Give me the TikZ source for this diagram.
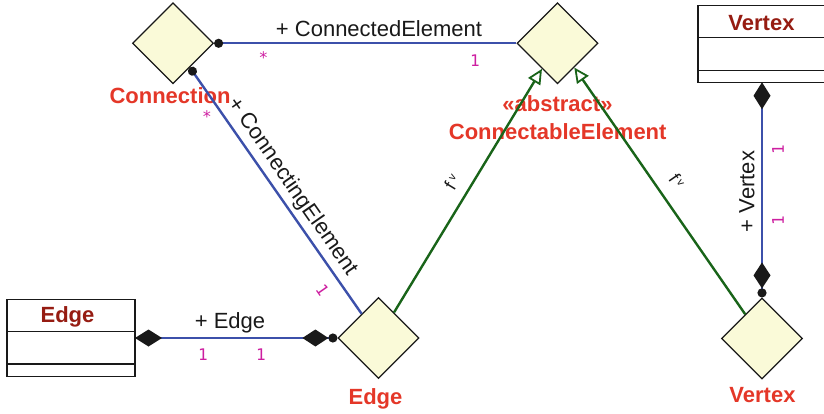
\documentclass[tikz,border=0pt]{standalone}
\usepackage{fontspec}
\setmainfont{Liberation Sans}
\newfontfamily\multfont{DejaVu Sans Mono}
\usetikzlibrary{shapes.geometric,arrows.meta}
\definecolor{lineblue}{RGB}{60,80,170}
\definecolor{gengreen}{RGB}{25,100,25}
\definecolor{multi}{RGB}{205,30,160}
\definecolor{lblred}{RGB}{228,55,40}
\definecolor{titlered}{RGB}{150,28,18}
\definecolor{dfill}{RGB}{250,250,216}
\definecolor{ink}{RGB}{25,25,25}
\begin{document}
\begin{tikzpicture}[x=1pt,y=-1pt,
  elem/.style={diamond, aspect=1, draw=ink, line width=1.2pt, fill=dfill, minimum width=81pt, minimum height=81pt, inner sep=0pt},
  classbox/.style={rectangle, draw=ink, line width=1.4pt, fill=white, minimum width=128pt, minimum height=77pt, inner sep=0pt, outer sep=0pt},
  classtitle/.style={font=\bfseries\fontsize{22}{26}\selectfont, text=titlered, inner sep=0pt},
  elemname/.style={font=\bfseries\fontsize{22}{26}\selectfont, text=lblred, inner sep=0pt},
  rolelbl/.style={font=\fontsize{22}{26}\selectfont, text=ink, inner sep=0pt},
  mult/.style={font=\multfont\fontsize{16}{18}\selectfont, text=multi, inner sep=0pt},
  genlbl/.style={font=\fontsize{18}{20}\selectfont, text=ink, inner sep=0pt},
  assoc/.style={draw=lineblue, line width=2.4pt},
  gen/.style={draw=gengreen, line width=2.4pt},
  comprule/.style={draw=ink, line width=1.4pt}
]
\useasboundingbox (0,0) rectangle (824,414);

% element diamonds
\node[elem] (conn) at (173,43.3) {};
\node[elem] (ce) at (557.5,43.3) {};
\node[elem] (edgeD) at (378.5,338) {};
\node[elem] (vertexD) at (762,338.5) {};

% class boxes
\node[classbox] (edgeC) at (71,338) {};
\node[classbox, minimum height=76.5pt] (vertexC) at (762,44) {};
\draw[comprule] ([yshift=-32pt]edgeC.north west) -- ([yshift=-32pt]edgeC.north east);
\draw[comprule] ([yshift=-64.5pt]edgeC.north west) -- ([yshift=-64.5pt]edgeC.north east);
\draw[comprule] ([yshift=-31.5pt]vertexC.north west) -- ([yshift=-31.5pt]vertexC.north east);
\draw[comprule] ([yshift=-64.5pt]vertexC.north west) -- ([yshift=-64.5pt]vertexC.north east);
\node[classtitle] (edgeT) at (67.5,317) {Edge};
\node[classtitle] (vertexT) at (761.5,23) {Vertex};

% element names
\node[elemname] (connN) at (170,95.5) {Connection};
\node[elemname] (ceN1) at (557.5,103.4) {«abstract»};
\node[elemname] (ceN2) at (557.7,131.7) {ConnectableElement};
\node[elemname] (edgeN) at (375.5,399) {Edge};
\node[elemname] (vertexN) at (762.5,394.7) {Vertex};

% connectors
\draw[assoc, {Circle[length=9pt,color=ink]}-] (conn) -- (ce);
\draw[assoc, {Circle[length=9pt,color=ink]}-] (conn) -- (edgeD);
\draw[assoc, {Diamond[length=27pt,width=17pt,color=ink]}-{Diamond[length=26pt,width=17pt,color=ink]Circle[length=9pt,color=ink]}] (edgeC) -- (edgeD);
\draw[assoc, {Diamond[length=27pt,width=17pt,color=ink]}-{Diamond[length=26pt,width=17pt,color=ink]Circle[length=9pt,color=ink]}] (vertexC) -- (vertexD);
\draw[gen, -{Triangle[length=15pt,width=14pt,fill=white,line width=1.8pt]}] (edgeD) -- (ce);
\draw[gen, -{Triangle[length=15pt,width=14pt,fill=white,line width=1.8pt]}] (vertexD) -- (ce);

% role labels
\node[rolelbl] (rConnected) at (379,29) {+ ConnectedElement};
\node[rolelbl, rotate=-55.1] (rConnecting) at (292.5,186.6) {+ ConnectingElement};
\node[rolelbl] (rEdge) at (230,322.6) {+ Edge};
\node[rolelbl, rotate=90] (rVertex) at (747,191.5) {+ Vertex};

% multiplicities
\node[mult] (mA1) at (263.5,58) {*};
\node[mult] (mA2) at (475,60.5) {1};
\node[mult] (mB1) at (207,117) {*};
\node[mult, rotate=-55.1] (mB2) at (322.5,290) {1};
\node[mult] (mC1) at (203,355) {1};
\node[mult] (mC2) at (261,355) {1};
\node[mult, rotate=90] (mD1) at (778,150) {1};
\node[mult, rotate=90] (mD2) at (778,221) {1};

% generalization labels
\node[genlbl, rotate=58.7] (g1) at (452,182) {f\,\raisebox{5pt}{\fontsize{11}{11}\selectfont v}};
\node[genlbl, rotate=-55.2] (g2) at (677,181) {f\,\raisebox{5pt}{\fontsize{11}{11}\selectfont v}};
\end{tikzpicture}
\end{document}
